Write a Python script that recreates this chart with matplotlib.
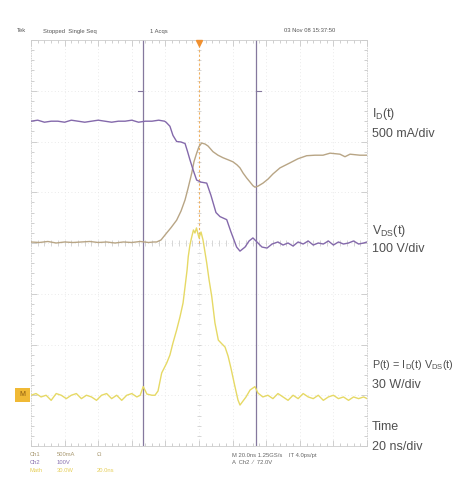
import numpy as np
import matplotlib.pyplot as plt
from matplotlib.patches import Rectangle

plt.rcParams["font.family"] = ["Liberation Sans", "DejaVu Sans"]
plt.rcParams["mathtext.default"] = "regular"

# scope settings (per division) and screen offsets in divisions
ID_SCALE, VDS_SCALE, P_SCALE = 0.5, 100.0, 30.0
ID_OFFSET, VDS_OFFSET, P_OFFSET = 0.0, 0.0, -3.0
cursor_t = [-33.3, 33.9]

# drain current, A (time in ns)
t_id = [-100, -96, -92, -88, -84, -80, -76, -72, -68, -64,
        -60, -56, -52, -48, -44, -40, -36, -32, -28, -24, -20.5,
        -19.6, -17.3, -15.5, -13.3, -10.7, -8.3, -6.8, -5.4, -3.5, -1.4,
        1.2, 4.6, 7.1, 10.1, 12.5, 16.5, 19.0, 22.4, 24.4, 27.4,
        29.8, 32.1, 35.1, 37.5, 40.5, 43.5,
        47, 50, 53, 56, 59, 62, 65, 68, 71, 74,
        77, 80, 83, 86, 89, 92, 95, 98, 100]
i_d = [1.20, 1.21, 1.19, 1.20, 1.20, 1.19, 1.21, 1.20, 1.19, 1.20,
       1.21, 1.20, 1.19, 1.20, 1.20, 1.21, 1.19, 1.20, 1.20, 1.21, 1.20,
       1.19, 1.15, 1.06, 1.00, 0.995, 0.98, 0.90, 0.82, 0.72, 0.62,
       0.60, 0.59, 0.47, 0.30, 0.26, 0.23, 0.11, -0.04, -0.08, -0.04,
       0.02, 0.05, 0.00, -0.04, -0.05, -0.01,
       0.01, -0.02, 0.00, -0.03, 0.01, -0.01, 0.02, -0.02, 0.00, -0.01,
       0.02, -0.02, 0.01, -0.01, 0.00, 0.02, -0.01, 0.00, 0.01]

# drain-source voltage, V
t_vds = [-100, -95, -90, -85, -80, -75, -70, -65, -60, -55, -50, -45, -40, -35, -30, -27,
         -25.2, -22.6, -19.2, -16.7, -13.3, -10.7, -8.3, -6.5, -4.3, -3.0,
         -1.4, 0, 1.6, 3.6, 5.4, 8.3, 11.3, 14.3, 17.3, 20.2,
         22.6, 24.4, 26.2, 28.4, 30.4, 32.1, 33.3, 35.1, 38.1, 41.1,
         44.0, 48.2, 54.2, 58.9, 64.1, 69.0, 73.8, 78.0, 83.9, 86.9,
         89.9, 95.8, 100]
v_ds = [2, 1, 3, 0, 2, 1, 2, 3, 1, 2, 0, 2, 1, 3, 1, 2,
        2, 6, 20, 30, 45, 63, 85, 108, 138, 160,
        177, 190, 197, 195, 191, 180, 173, 168, 164, 160,
        154, 148, 138, 128, 120, 113, 110, 112, 118, 126,
        136, 148, 158, 166, 172, 173, 173, 177, 175, 170,
        175, 173, 173]

# instantaneous power, W
t_p = [-100, -97, -94, -91, -88, -85, -82, -79, -76, -73,
       -70, -67, -64, -61, -58, -55, -52, -49, -46, -43, -40, -37, -35,
       -33.2, -31, -28, -26.2, -24.4, -22.2, -19.2, -17.3, -15.5, -13.3,
       -11.3, -9.5, -8.3, -7.1, -6.4, -5.4, -4.3, -3.3, -2.4, -1.5,
       0, 1.2, 2.4, 4.6, 6.0, 7.6, 9.5, 11.5, 13.7, 15.5,
       17.3, 19.0, 21.4, 23.2, 24.4, 26.2, 28.0, 30.4, 33.3, 35.1,
       38, 41, 44, 47, 50, 53, 56, 59, 62, 65,
       68, 71, 74, 77, 80, 83, 86, 89, 92, 95, 98, 100]
p_w = [0, 1, -1, 0, -3, 1, 0, -2, 0, 1,
       -2, 0, -1, -3, 0, 1, -2, 0, -3, 0, 1, -1, 0,
       5.1, 0.7, 0, 0, 2.5, 13.2, 19.1, 23.8, 30.9, 38.6,
       46.4, 54.5, 64.2, 74.0, 81.9, 88.8, 93.7, 97.7, 95.9, 98.9,
       93.0, 96.5, 91.7, 78.2, 68.2, 58.3, 42.7, 32.6, 30.3, 28.5,
       23.2, 16.1, 5.1, -2.8, -5.8, -3.4, -1.0, 3.1, 5.1, 1.3,
       -1, 0, -2, 1, -1, -3, 0, -2, 1, -1,
       -2, 0, -3, -1, 0, -2, -1, -3, -1, -2, -1, -2]

ID_COLOR = "#8469ab"
VDS_COLOR = "#b8a585"
P_COLOR = "#e6d965"
CURSOR_COLOR = "#85789e"
GRID_COLOR = "#e4e4e4"
TEXT_COLOR = "#505050"

fig = plt.figure(figsize=(4.62, 4.84), dpi=100)
ax = fig.add_axes([31 / 462, 1 - 446 / 484, 336 / 462, 406 / 484])
ax.set_xlim(-100, 100)
ax.set_ylim(-4, 4)

# graticule
for x in np.arange(-80, 100, 20):
    ax.axvline(x, color=GRID_COLOR, lw=0.6, ls=(0, (1, 3)), zorder=0)
for y in np.arange(-3, 4, 1):
    ax.axhline(y, color=GRID_COLOR, lw=0.6, ls=(0, (1, 3)), zorder=0)
ax.vlines(np.arange(-100, 101, 4), -0.05, 0.05, color="#d0d0d0", lw=0.6, zorder=0)
ax.hlines(np.arange(-4, 4.01, 0.2), -1.0, 1.0, color="#d0d0d0", lw=0.6, zorder=0)
ax.set_xticks(np.arange(-100, 101, 20))
ax.set_xticks(np.arange(-100, 101, 4), minor=True)
ax.set_yticks(np.arange(-4, 5, 1))
ax.set_yticks(np.arange(-4, 4.01, 0.2), minor=True)
ax.tick_params(which="both", direction="in", top=True, right=True,
               labelbottom=False, labelleft=False, color="#c8c8c8", width=0.6)
ax.tick_params(which="major", length=4)
ax.tick_params(which="minor", length=2)
for side, sp in ax.spines.items():
    sp.set_color("#cccccc")
    sp.set_linewidth(0.6)
ax.spines["left"].set_linestyle((0, (1, 2)))
ax.spines["right"].set_linestyle((0, (1, 2)))

# trigger position and cursors
ax.vlines(0, 0, 4, color="#f0b060", lw=0.8, ls=(0, (2, 2)), zorder=1)
ax.plot([0], [3.95], marker="v", ms=4, color="#f09030", clip_on=False, zorder=4)
for ct in cursor_t:
    ax.axvline(ct, color=CURSOR_COLOR, lw=0.9, zorder=2)
ax.plot([cursor_t[0] - 3, cursor_t[0]], [3.0, 3.0], color=CURSOR_COLOR, lw=0.8)
ax.plot([cursor_t[1], cursor_t[1] + 3], [3.0, 3.0], color=CURSOR_COLOR, lw=0.8)

# traces
ax.plot(t_vds, np.array(v_ds) / VDS_SCALE + VDS_OFFSET, color=VDS_COLOR, lw=1.0, zorder=3)
ax.plot(t_id, np.array(i_d) / ID_SCALE + ID_OFFSET, color=ID_COLOR, lw=1.0, zorder=3)
ax.plot(t_p, np.array(p_w) / P_SCALE + P_OFFSET, color=P_COLOR, lw=1.0, zorder=3)

# math channel marker on the left edge
fig.patches.append(Rectangle((15 / 462, 1 - 402 / 484), 15 / 462, 14 / 484,
                             transform=fig.transFigure, facecolor="#f0b935",
                             edgecolor="none"))
fig.text(22.5 / 462, 1 - 395 / 484, "M", fontsize=5, color="#8a5a10",
         ha="center", va="center")

# right-side labels
lab = dict(fontsize=9, color=TEXT_COLOR, ha="left", va="center")
fig.text(372 / 462, 1 - 114 / 484, r"I$_D$(t)", **lab)
fig.text(372 / 462, 1 - 134 / 484, "500 mA/div", **lab)
fig.text(372 / 462, 1 - 231 / 484, r"V$_{DS}$(t)", **lab)
fig.text(372 / 462, 1 - 249 / 484, "100 V/div", **lab)
fig.text(372 / 462, 1 - 365 / 484, r"P(t) = I$_D$(t) V$_{DS}$(t)",
         fontsize=7.8, color=TEXT_COLOR, ha="left", va="center")
fig.text(372 / 462, 1 - 385 / 484, "30 W/div", **lab)
fig.text(372 / 462, 1 - 427 / 484, "Time", **lab)
fig.text(372 / 462, 1 - 447 / 484, "20 ns/div", **lab)

# scope header and footer readouts
small = dict(fontsize=4.2, va="center", ha="left")
fig.text(17 / 462, 1 - 31 / 484, "Tek", color="#555555", **small)
fig.text(43 / 462, 1 - 31 / 484, "Stopped  Single Seq", color="#555555", **small)
fig.text(150 / 462, 1 - 31 / 484, "1 Acqs", color="#555555", **small)
fig.text(284 / 462, 1 - 31 / 484, "03 Nov 08 15:37:50", color="#555555", **small)

fig.text(30 / 462, 1 - 455 / 484, "Ch1", color="#a89870", **small)
fig.text(57 / 462, 1 - 455 / 484, "500mA", color="#a89870", **small)
fig.text(97 / 462, 1 - 455 / 484, "Ω", color="#a89870", **small)
fig.text(30 / 462, 1 - 463 / 484, "Ch2", color="#8a72b0", **small)
fig.text(57 / 462, 1 - 463 / 484, "100V", color="#8a72b0", **small)
fig.text(30 / 462, 1 - 471 / 484, "Math", color="#e6cf5a", **small)
fig.text(57 / 462, 1 - 471 / 484, "30.0W", color="#e6cf5a", **small)
fig.text(97 / 462, 1 - 471 / 484, "20.0ns", color="#e6cf5a", **small)
fig.text(232 / 462, 1 - 455 / 484, "M 20.0ns 1.25GS/s    IT 4.0ps/pt", color="#666666", **small)
fig.text(232 / 462, 1 - 463 / 484, "A  Ch2  \u2215  72.0V", color="#666666", **small)

fig.savefig("out.png", dpi=100)
